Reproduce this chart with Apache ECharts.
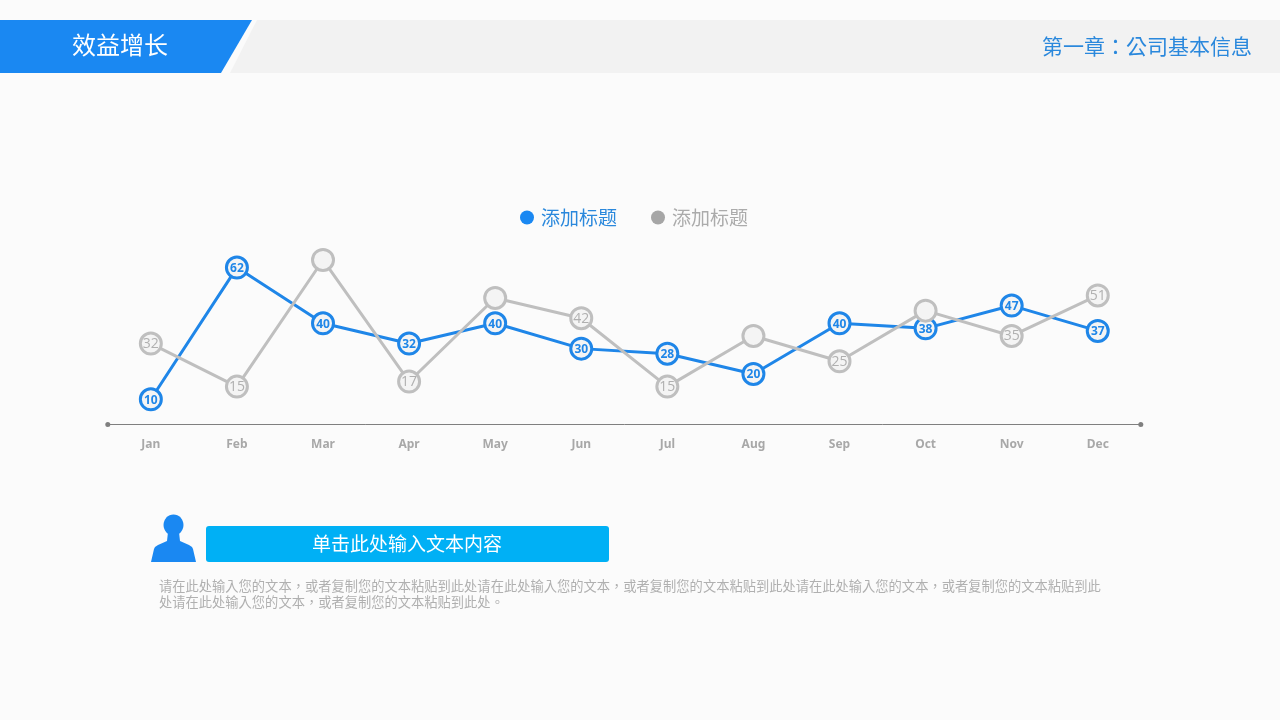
<!DOCTYPE html>
<html>
<head>
<meta charset="utf-8">
<style>html,body{margin:0;padding:0;background:#fbfbfb}#c{width:1280px;height:720px}</style>
<script src="https://cdn.jsdelivr.net/npm/echarts@6/dist/echarts.min.js"></script>
</head>
<body>
<div id="c"></div>
<script>
const months = ['Jan','Feb','Mar','Apr','May','Jun','Jul','Aug','Sep','Oct','Nov','Dec'];
const blueValues = [10,62,40,32,40,30,28,20,40,38,47,37];
const greyValues = [32,15,65,17,50,42,15,35,25,45,35,51];
const greyLabelShown = [true,true,false,true,false,true,true,false,true,false,true,true];
const seriesNames = ['系列一','系列二'];
const legendText = '添加标题';
const pageTitle = '效益增长';
const chapterTitle = '第一章：公司基本信息';
const buttonText = '单击此处输入文本内容';
const bodyLines = [
  '请在此处输入您的文本，或者复制您的文本粘贴到此处请在此处输入您的文本，或者复制您的文本粘贴到此处请在此处输入您的文本，或者复制您的文本粘贴到此',
  '处请在此处输入您的文本，或者复制您的文本粘贴到此处。'
];
const BLUE = '#1a88f2', LINE_BLUE = '#1f86e8', GREY = '#bfbfbf';
const CJK = '"Noto Sans CJK SC","Noto Sans",sans-serif';
const CJK_TC = '"Noto Sans CJK TC","Noto Sans",sans-serif';

const chart = echarts.init(document.getElementById('c'), null, {renderer:'canvas'});
function lineSeries(name, values, color, z, label, shown) {
  return {
    name, type:'line', z, data: values.map((v,i)=>({
      value:v, label:{show: shown ? shown[i] : true}
    })),
    symbol:'circle', symbolSize:21, showAllSymbol:true,
    lineStyle:{color, width:3},
    itemStyle:{color:'#f4f4f4', borderColor:color, borderWidth:3},
    label:Object.assign({show:true, position:'inside'}, label),
    emphasis:{disabled:true}, animation:false
  };
}
chart.setOption({
  backgroundColor:'#fbfbfb',
  animation:false,
  legend:{
    left:515, top:203, itemWidth:14, itemHeight:14, itemGap:34, icon:'circle', selectedMode:false,
    formatter:()=>legendText,
    data:[
      {name:seriesNames[0], itemStyle:{color:BLUE,borderWidth:0}, textStyle:{color:'#2a88dc',fontSize:19,fontFamily:CJK,padding:[0,0,0,2]}},
      {name:seriesNames[1], itemStyle:{color:'#a6a6a6',borderWidth:0}, textStyle:{color:'#ababab',fontSize:19,fontFamily:CJK,padding:[0,0,0,2]}}
    ]
  },
  grid:{left:107.8, width:1033, top:222, height:202.6},
  xAxis:{
    type:'category', data:months, boundaryGap:true,
    axisLine:{show:true, lineStyle:{color:'#7f7f7f',width:1}, symbol:['circle','circle'], symbolSize:[5,5], symbolOffset:[0,0]},
    axisTick:{show:false},
    axisLabel:{color:'#a8a8a8',fontSize:12,fontWeight:'bold',fontFamily:'"Noto Sans",sans-serif',margin:14}
  },
  yAxis:{type:'value', min:0, max:80, show:false, splitLine:{show:false}},
  series:[
    lineSeries(seriesNames[0], blueValues, LINE_BLUE, 2, {color:LINE_BLUE,fontSize:12,fontWeight:'bold',fontFamily:'"Noto Sans",sans-serif',offset:[0,1]}),
    lineSeries(seriesNames[1], greyValues, GREY, 3, {color:'#b0b0b0',fontSize:14,fontFamily:'"Open Sans",sans-serif',offset:[0,0.5]}, greyLabelShown)
  ],
  graphic:[
    {type:'polygon', silent:true, z:0, shape:{points:[[230,73],[257,20],[1280,20],[1280,73]]}, style:{fill:'#f2f2f2'}},
    {type:'polygon', silent:true, z:1, shape:{points:[[0,20],[252,20],[221,73],[0,73]]}, style:{fill:BLUE}},
    {type:'text', silent:true, z:2, style:{x:72,y:45,text:pageTitle,fill:'#fff',font:'24px '+CJK,textVerticalAlign:'middle'}},
    {type:'text', silent:true, z:2, style:{x:1042,y:46,text:chapterTitle,fill:'#2a88dc',font:'21px '+CJK_TC,textVerticalAlign:'middle'}},
    {type:'ellipse', silent:true, z:2, shape:{cx:173.5,cy:525,rx:10,ry:10.5}, style:{fill:BLUE}},
    {type:'polygon', silent:true, z:2, shape:{points:[[151,562],[154,549],[155,547],[158,545],[167,541],[168,532],[179,532],[180,541],[189,545],[192,547],[193,549],[196,562]]}, style:{fill:BLUE}},
    {type:'rect', silent:true, z:2, shape:{x:206,y:526,width:403,height:36,r:3}, style:{fill:'#00b0f5'}},
    {type:'text', silent:true, z:3, style:{x:407,y:544,text:buttonText,fill:'#fff',font:'19px '+CJK,textAlign:'center',textVerticalAlign:'middle'}},
    {type:'text', silent:true, z:2, style:{x:159,y:586,text:bodyLines[0],fill:'#b0b0b0',font:'13.27px '+CJK_TC,textVerticalAlign:'middle'}},
    {type:'text', silent:true, z:2, style:{x:159,y:602,text:bodyLines[1],fill:'#b0b0b0',font:'13.27px '+CJK_TC,textVerticalAlign:'middle'}}
  ]
});
</script>
</body>
</html>
